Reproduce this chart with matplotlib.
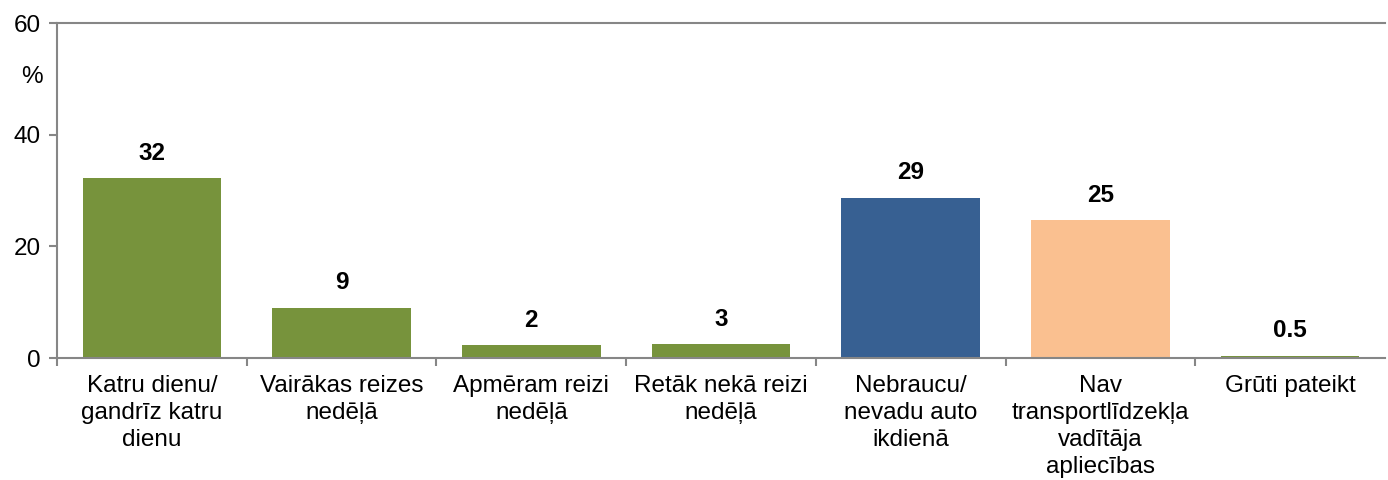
import matplotlib.pyplot as plt

plt.rcParams['font.family'] = ['Liberation Sans', 'DejaVu Sans']

categories = ['Katru dienu/\ngandrīz katru\ndienu', 'Vairākas reizes\nnedēļā', 'Apmēram reizi\nnedēļā',
              'Retāk nekā reizi\nnedēļā', 'Nebraucu/\nnevadu auto\nikdienā',
              'Nav\ntransportlīdzekļa\nvadītāja\napliecības', 'Grūti pateikt']
values = [32.2, 9.0, 2.3, 2.5, 28.7, 24.7, 0.4]
labels = ['32', '9', '2', '3', '29', '25', '0.5']
colors = ['#77933C', '#77933C', '#77933C', '#77933C', '#376092', '#FAC090', '#77933C']

fig = plt.figure(figsize=(13.88, 4.8), dpi=100)
ax = fig.add_axes([0.0411, 0.254, 0.9567, 0.698])

x = range(len(categories))
ax.bar(x, values, width=0.73, color=colors)
for i, v in enumerate(values):
    ax.text(i, v + 2.4, labels[i], ha='center', va='bottom', fontsize=17.5, fontweight='bold')

ax.set_xlim(-0.5, len(categories) - 0.5)
ax.set_ylim(0, 60)
ax.set_yticks([0, 20, 40, 60])
ax.set_xticks(list(x))
ax.set_xticklabels(categories, fontsize=17.5, linespacing=1.3)
ax.set_xticks([i + 0.5 for i in range(-1, len(categories) - 1)], minor=True)
ax.tick_params(axis='x', which='major', length=0, pad=12)
ax.tick_params(axis='x', which='minor', length=6, color='#868686', width=1.5)
ax.tick_params(axis='y', length=6, color='#868686', width=1.5, labelsize=17.5, pad=6)

for side in ['left', 'bottom', 'top']:
    ax.spines[side].set_color('#868686')
    ax.spines[side].set_linewidth(1.5)
ax.spines['right'].set_visible(False)

ax.text(-0.0188, 0.839, '%', transform=ax.transAxes, ha='center', va='center', fontsize=17.5)

fig.savefig('out.png', dpi=100)
